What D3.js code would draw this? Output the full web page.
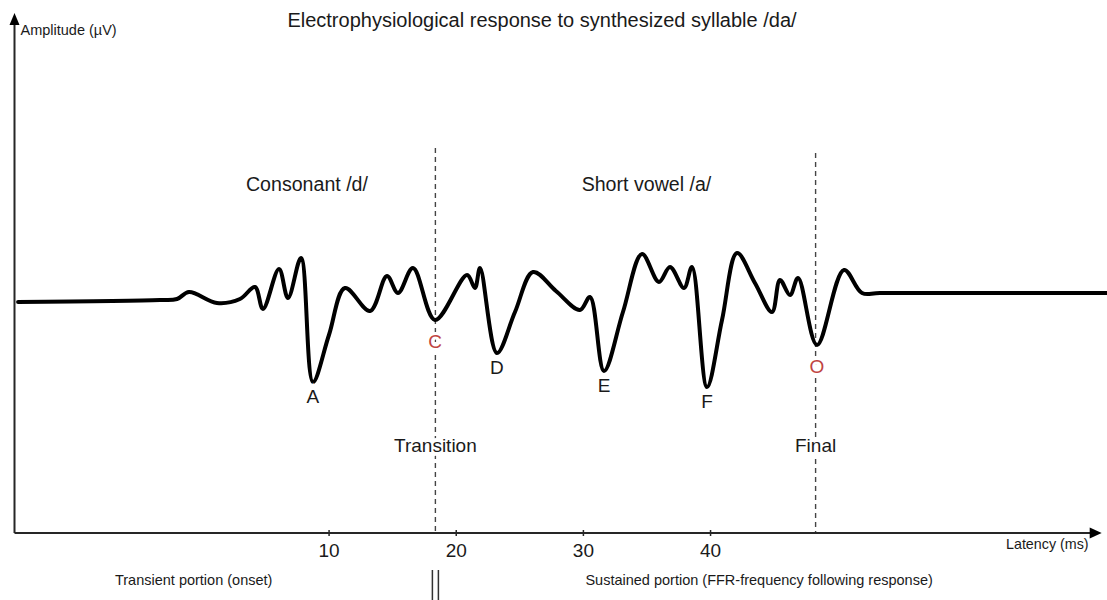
<!DOCTYPE html>
<html>
<head>
<meta charset="utf-8">
<script src="https://cdn.jsdelivr.net/npm/d3@7"></script>
<style>
  body { margin: 0; background: #fff; }
  svg { display: block; font-family: "Liberation Sans", Arial, Helvetica, sans-serif; }
</style>
</head>
<body>
<svg id="chart"></svg>
<script>
var width = 1107;
var height = 600;

// waveform (latency in ms, amplitude in arbitrary uV)
var latency = [-14.42, -3.26, -1.92, -0.98, 1.22, 3.03, 4.21, 4.84, 6.10, 6.81, 7.83,
               8.77, 10.03, 11.29, 13.26, 14.59, 15.46, 16.64, 18.37, 20.89, 21.51,
               21.91, 23.24, 24.66, 26.08, 27.88, 29.77, 30.56, 31.66, 33.15, 34.65,
               35.98, 36.85, 37.95, 38.58, 39.76, 40.94, 42.12, 43.53, 44.87, 45.50,
               46.29, 46.92, 48.41, 50.53, 51.95, 53.36, 71.2];
var amplitude = [-0.02, 0.0, 0.01, 0.08, -0.03, 0.01, 0.13, -0.09, 0.31, 0.02, 0.42,
                 -0.82, -0.35, 0.12, -0.11, 0.24, 0.07, 0.32, -0.20, 0.25, 0.12,
                 0.32, -0.53, -0.12, 0.28, 0.09, -0.10, 0.03, -0.71, -0.12, 0.46,
                 0.18, 0.33, 0.12, 0.33, -0.87, -0.20, 0.47, 0.17, -0.12, 0.20,
                 0.05, 0.22, -0.45, 0.30, 0.07, 0.07, 0.07];

// labelled troughs
var peakNames = ['A', 'C', 'D', 'E', 'F', 'O'];
var peakLatency = [8.77, 18.37, 23.24, 31.66, 39.76, 48.41];
var peakRed = [false, true, false, false, false, true];

// dashed boundaries
var markerNames = ['Transition', 'Final'];
var markerLatency = [18.4, 48.3];

// section labels
var phaseNames = ['Consonant /d/', 'Short vowel /a/'];
var phaseLatency = [8.3, 35.0];
var portionNames = ['Transient portion (onset)', 'Sustained portion (FFR-frequency following response)'];
var portionLatency = [-6.8, 30.2];

var tickValues = [10, 20, 30, 40];

var x = d3.scaleLinear().domain([-14.7, 70.8]).range([14.5, 1101.7]);
var y = d3.scaleLinear().domain([-2.33, 2.87]).range([533, 13]);

var svg = d3.select('#chart')
    .attr('width', width)
    .attr('height', height);

var axisColor = '#262626';
var red = '#c0443f';

// title
svg.append('text')
    .attr('x', 542)
    .attr('y', 27)
    .attr('text-anchor', 'middle')
    .attr('font-size', 20)
    .attr('fill', '#1a1a1a')
    .text('Electrophysiological response to synthesized syllable /da/');

// dashed boundaries
var markers = svg.append('g').selectAll('g')
    .data(markerNames)
    .enter()
    .append('g');

markers.append('line')
    .attr('x1', (d, i) => x(markerLatency[i]))
    .attr('x2', (d, i) => x(markerLatency[i]))
    .attr('y1', (d, i) => y(i === 0 ? 1.52 : 1.47))
    .attr('y2', y.range()[0])
    .attr('stroke', '#444')
    .attr('stroke-width', 1.4)
    .attr('stroke-dasharray', '5,4');

// waveform
var line = d3.line()
    .x((d, i) => x(latency[i]))
    .y((d, i) => y(amplitude[i]))
    .curve(d3.curveCatmullRom.alpha(0.5));

svg.append('path')
    .attr('d', line(latency))
    .attr('fill', 'none')
    .attr('stroke', '#000')
    .attr('stroke-width', 4)
    .attr('stroke-linejoin', 'round')
    .attr('stroke-linecap', 'round');

// boundary labels, white halo cuts the dashed line
markers.append('text')
    .attr('x', (d, i) => x(markerLatency[i]))
    .attr('y', 452)
    .attr('text-anchor', 'middle')
    .attr('font-size', 19)
    .attr('fill', '#1a1a1a')
    .attr('stroke', '#fff')
    .attr('stroke-width', 8)
    .attr('paint-order', 'stroke')
    .text(d => d);

// trough letters
svg.append('g').selectAll('text')
    .data(peakNames)
    .enter()
    .append('text')
        .attr('x', (d, i) => x(peakLatency[i]))
        .attr('y', (d, i) => {
            var a = amplitude[latency.indexOf(peakLatency[i])];
            return y(a) + (peakRed[i] ? 28 : 21);
        })
        .attr('text-anchor', 'middle')
        .attr('font-size', 19)
        .attr('fill', (d, i) => peakRed[i] ? red : '#1a1a1a')
        .attr('stroke', '#fff')
        .attr('stroke-width', 6)
        .attr('paint-order', 'stroke')
        .text(d => d);

// phase labels
svg.append('g').selectAll('text')
    .data(phaseNames)
    .enter()
    .append('text')
        .attr('x', (d, i) => x(phaseLatency[i]))
        .attr('y', 191)
        .attr('text-anchor', 'middle')
        .attr('font-size', 19.6)
        .attr('fill', '#1a1a1a')
        .text(d => d);

// x axis
var xAxis = svg.append('g')
    .attr('transform', `translate(0, ${y.range()[0]})`)
    .call(d3.axisBottom(x).tickValues(tickValues).tickSize(3).tickSizeOuter(0));

xAxis.select('.domain').remove();
xAxis.selectAll('.tick line')
    .attr('y1', -3)
    .attr('y2', 3)
    .attr('stroke', axisColor)
    .attr('stroke-width', 1.5);
xAxis.selectAll('.tick text')
    .attr('y', 24)
    .attr('dy', null)
    .attr('font-size', 19)
    .attr('font-family', null)
    .attr('fill', '#1a1a1a');

var x0 = x.range()[0];
var x1 = x.range()[1];
var yb = y.range()[0];
var yt = y.range()[1];

svg.append('line')
    .attr('x1', x0).attr('x2', x1 - 8)
    .attr('y1', yb).attr('y2', yb)
    .attr('stroke', axisColor)
    .attr('stroke-width', 2);

svg.append('path')
    .attr('d', `M${x1},${yb} L${x1 - 12},${yb - 5.5} L${x1 - 12},${yb + 5.5} Z`)
    .attr('fill', '#000');

// y axis
svg.append('line')
    .attr('x1', x0).attr('x2', x0)
    .attr('y1', yb).attr('y2', yt + 6)
    .attr('stroke', axisColor)
    .attr('stroke-width', 2);

svg.append('path')
    .attr('d', `M${x0},${yt} L${x0 - 5},${yt + 12} L${x0 + 5},${yt + 12} Z`)
    .attr('fill', '#000');

svg.append('text')
    .attr('x', x0 + 6)
    .attr('y', 35)
    .attr('font-size', 14.5)
    .attr('fill', '#1a1a1a')
    .text('Amplitude (\u00b5V)');

svg.append('text')
    .attr('x', 1006)
    .attr('y', 549)
    .attr('font-size', 14.3)
    .attr('fill', '#1a1a1a')
    .text('Latency (ms)');

// bottom portions
svg.append('g').selectAll('text')
    .data(portionNames)
    .enter()
    .append('text')
        .attr('x', (d, i) => x(portionLatency[i]))
        .attr('y', 585)
        .attr('font-size', 14.5)
        .attr('fill', '#1a1a1a')
        .text(d => d);

// double bar separating the portions
svg.append('g').selectAll('line')
    .data([-3, 3])
    .enter()
    .append('line')
        .attr('x1', d => x(markerLatency[0]) + d)
        .attr('x2', d => x(markerLatency[0]) + d)
        .attr('y1', 570)
        .attr('y2', height)
        .attr('stroke', '#333')
        .attr('stroke-width', 1.5);
</script>
</body>
</html>
